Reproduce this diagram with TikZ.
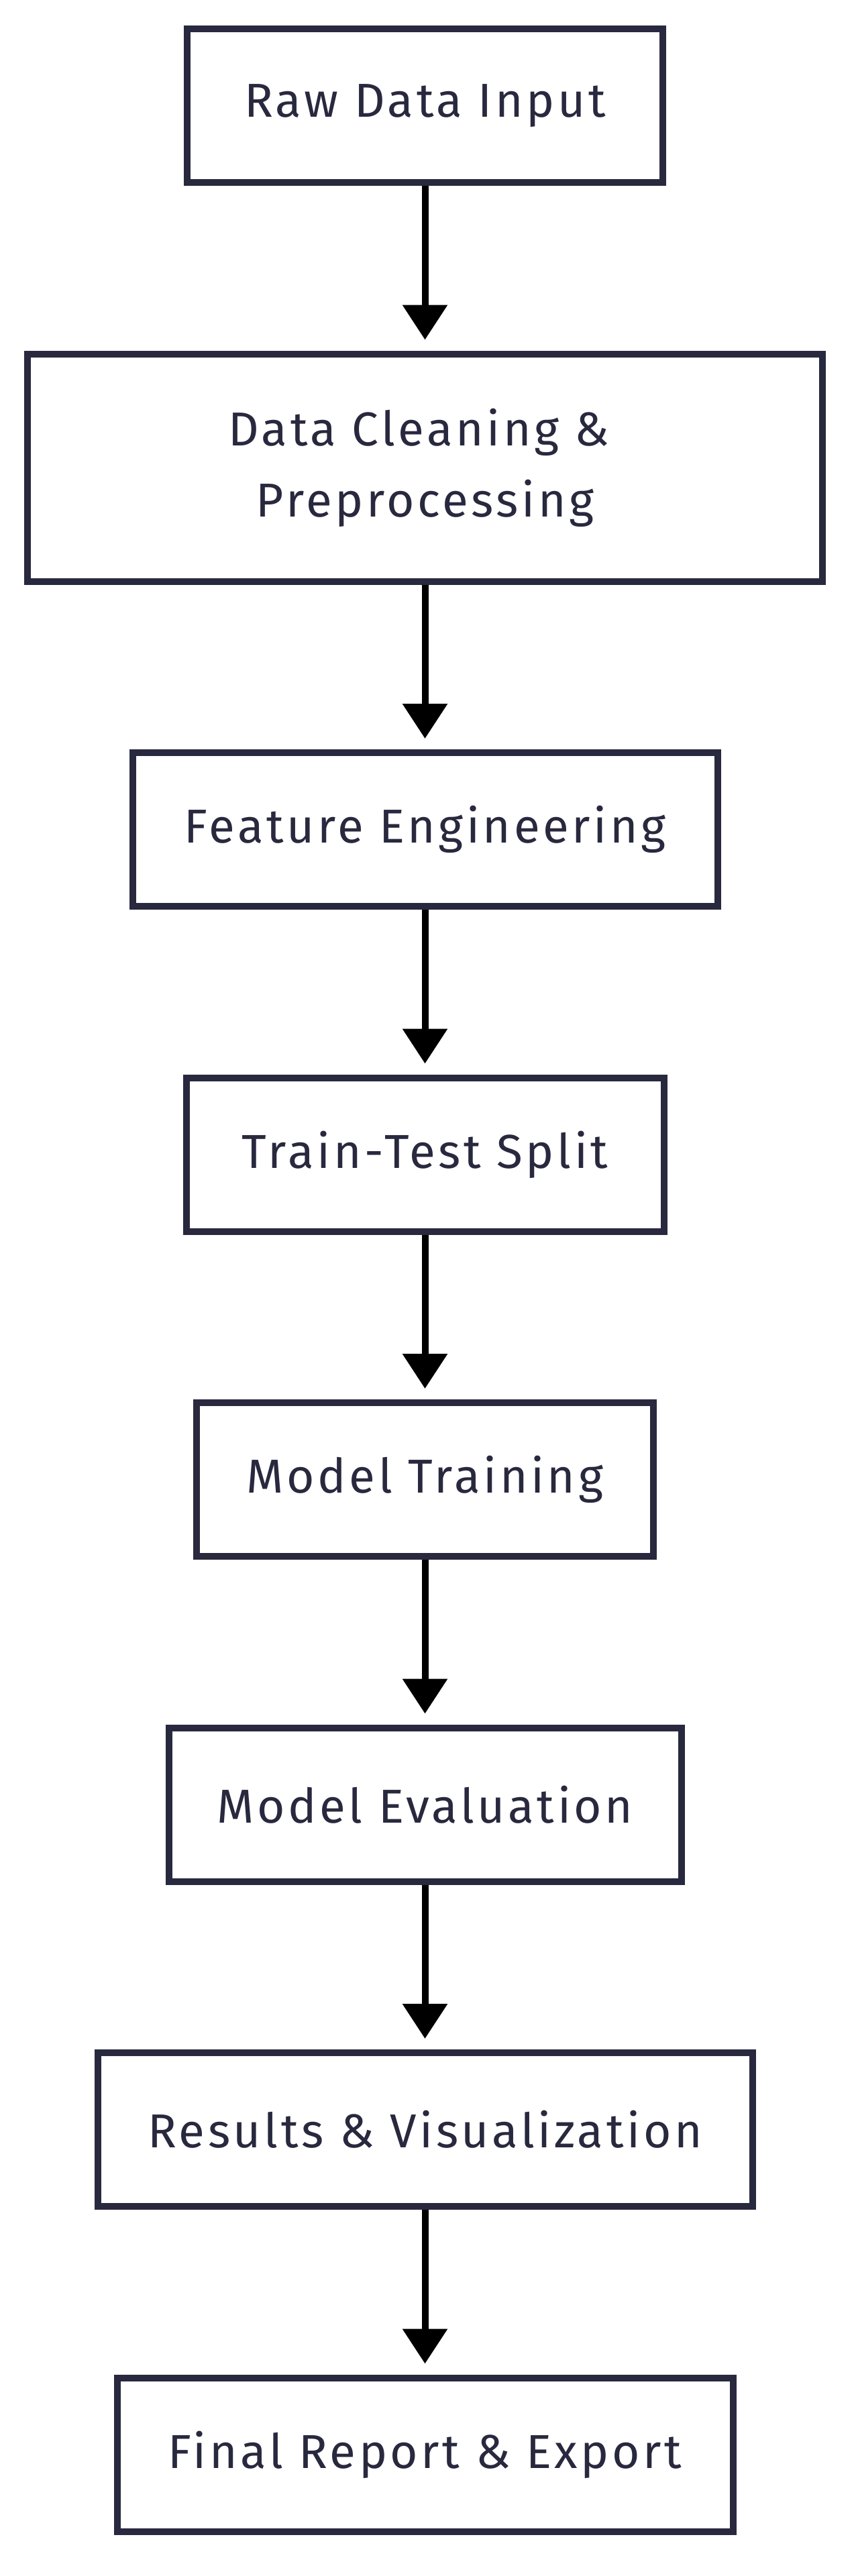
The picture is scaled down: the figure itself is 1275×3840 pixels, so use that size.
\documentclass[tikz,border=0pt]{standalone}
\usepackage{fontspec}
\setmainfont[LetterSpace=6.5]{Fira Sans}
\usetikzlibrary{arrows.meta,backgrounds}
\definecolor{ink}{RGB}{40,40,62}
\definecolor{shadowgray}{RGB}{239,239,239}
\tikzset{
  stepbox/.style={draw=ink, line width=10pt, fill=white, text=ink, align=center,
    inner sep=0pt, font=\fontsize{71}{106}\selectfont},
  flowarrow/.style={line width=10pt, draw=black, -{Triangle[length=52pt,width=65pt]}},
}
\newcommand{\boxshadow}[1]{\fill[shadowgray] ([shift={(20pt,-20pt)}]#1.south west) rectangle ([shift={(20pt,-20pt)}]#1.north east);}
\begin{document}
\begin{tikzpicture}[x=1pt,y=-1pt]
\useasboundingbox[fill=white] (0,0) rectangle (1275,3840);
\node[stepbox, minimum width=709pt, minimum height=229pt] (b1) at (633.5,157.5) {Raw Data Input};
\node[stepbox, minimum width=1185pt, minimum height=339pt] (b2) at (633.5,697) {Data Cleaning \&\hspace*{18pt}\\Preprocessing};
\node[stepbox, minimum width=872pt, minimum height=229pt] (b3) at (633.5,1236.5) {Feature Engineering};
\node[stepbox, minimum width=712pt, minimum height=229pt] (b4) at (633.5,1721) {Train-Test Split};
\node[stepbox, minimum width=681pt, minimum height=229pt] (b5) at (633.5,2205.5) {Model Training};
\node[stepbox, minimum width=764pt, minimum height=229pt] (b6) at (633.5,2690) {Model Evaluation};
\node[stepbox, minimum width=976pt, minimum height=229pt] (b7) at (633.5,3174.5) {Results \& Visualization};
\node[stepbox, minimum width=918pt, minimum height=229pt] (b8) at (633.5,3659) {Final Report \& Export};
\begin{pgfonlayer}{background}
\foreach \b in {b1,b2,b3,b4,b5,b6,b7,b8} {\boxshadow{\b}}
\end{pgfonlayer}
\draw[flowarrow] (b1.south) -- ([yshift=16pt]b2.north);
\draw[flowarrow] (b2.south) -- ([yshift=16pt]b3.north);
\draw[flowarrow] (b3.south) -- ([yshift=16pt]b4.north);
\draw[flowarrow] (b4.south) -- ([yshift=16pt]b5.north);
\draw[flowarrow] (b5.south) -- ([yshift=16pt]b6.north);
\draw[flowarrow] (b6.south) -- ([yshift=16pt]b7.north);
\draw[flowarrow] (b7.south) -- ([yshift=16pt]b8.north);
\end{tikzpicture}
\end{document}
